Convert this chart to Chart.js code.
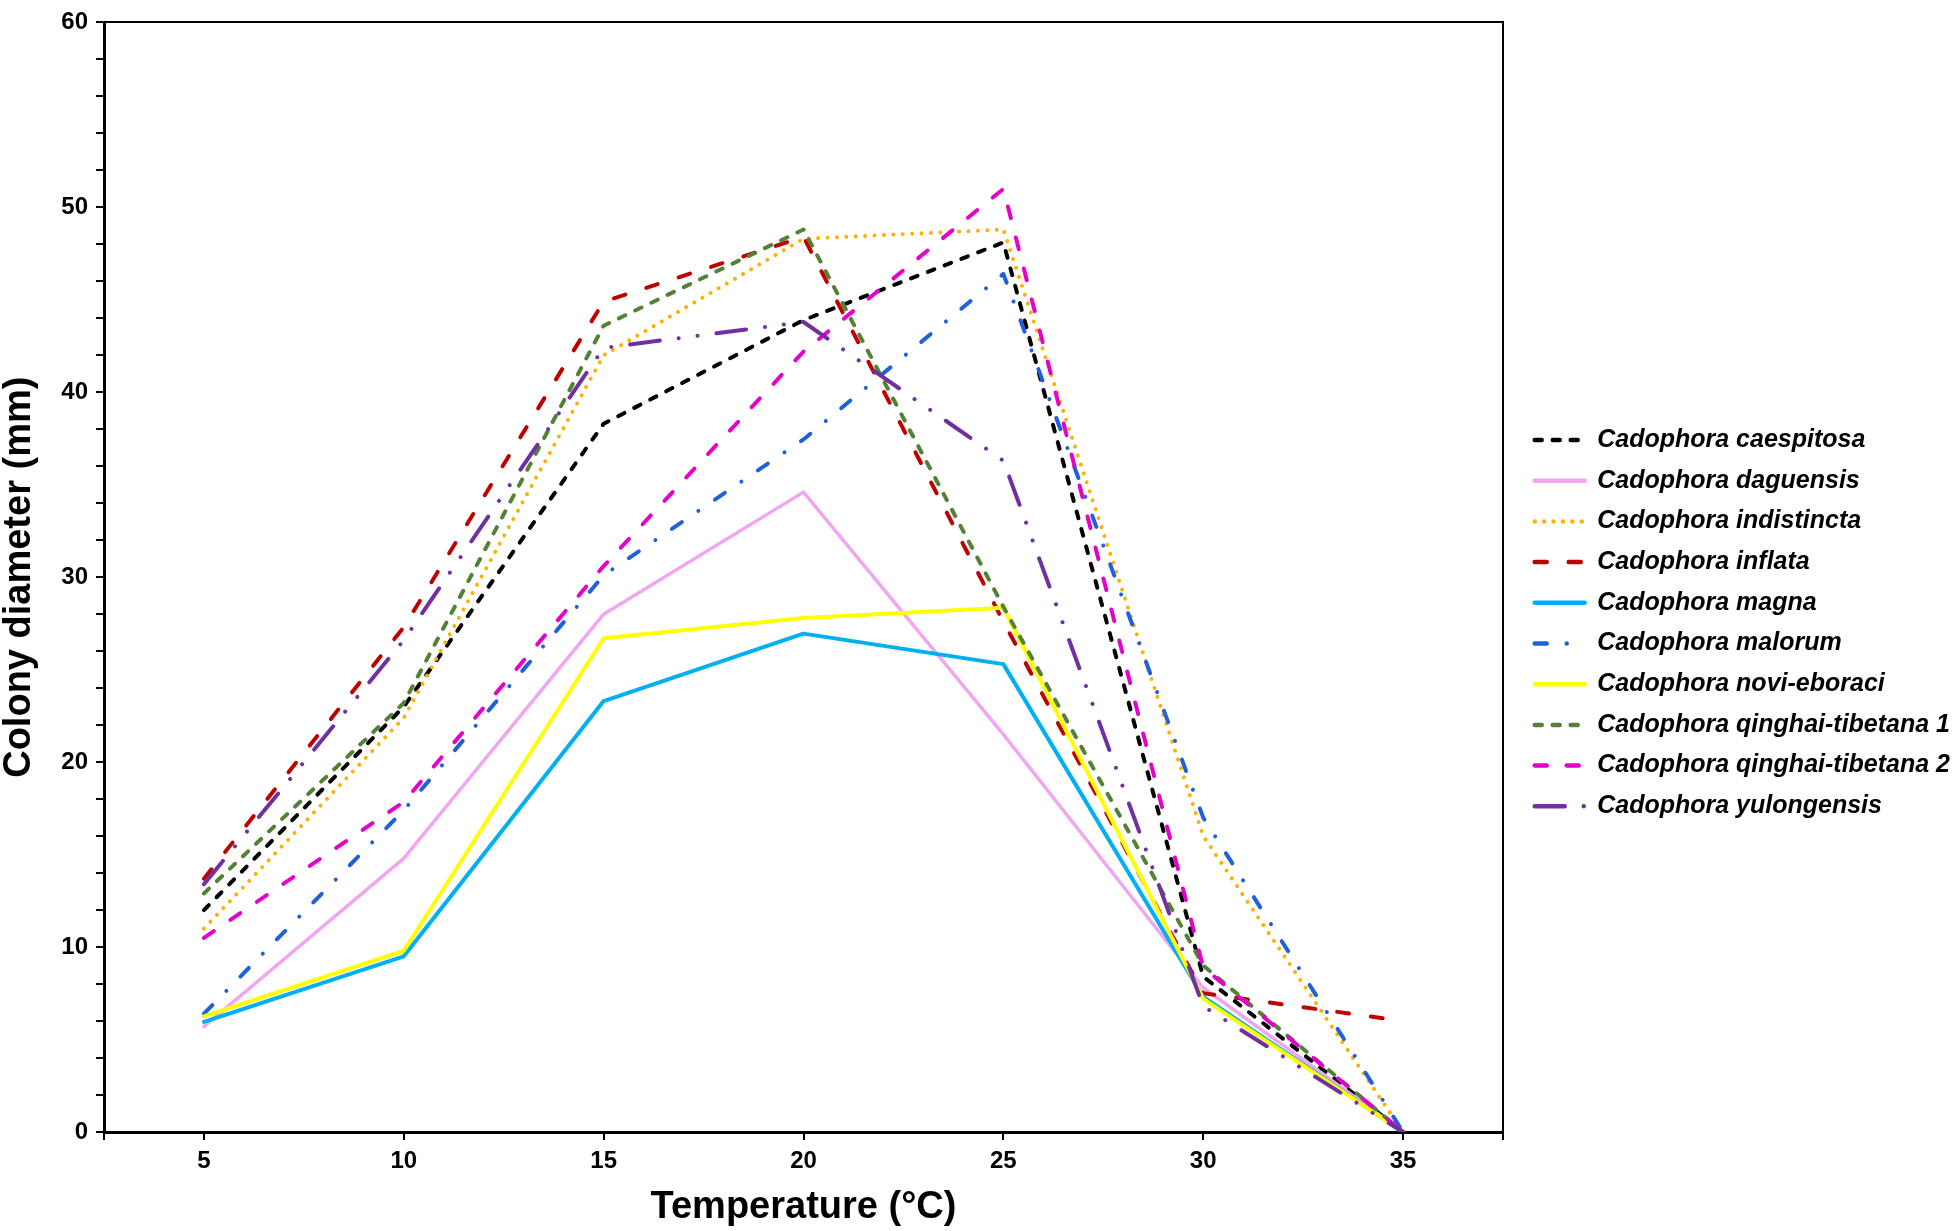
<!DOCTYPE html>
<html>
<head>
<meta charset="utf-8">
<script src="https://cdn.jsdelivr.net/npm/chart.js@4.4.1/dist/chart.umd.min.js"></script>
<style>
html,body{margin:0;padding:0;background:#ffffff;}
#wrap{width:1960px;height:1231px;position:relative;}
</style>
</head>
<body>
<div id="wrap"><canvas id="c"></canvas></div>
<script>
// ---- data ----
const temperatures = [5, 10, 15, 20, 25, 30, 35];
const xTickValues = [5, 10, 15, 20, 25, 30, 35];
const yMajorTicks = [0, 10, 20, 30, 40, 50, 60];
const seriesNames = [
  'Cadophora caespitosa',
  'Cadophora daguensis',
  'Cadophora indistincta',
  'Cadophora inflata',
  'Cadophora magna',
  'Cadophora malorum',
  'Cadophora novi-eboraci',
  'Cadophora qinghai-tibetana 1',
  'Cadophora qinghai-tibetana 2',
  'Cadophora yulongensis'
];
const caespitosa       = [12.0, 23.0, 38.3, 43.9, 48.1, 8.4, 0];
const daguensis        = [5.7, 14.8, 28.0, 34.6, 21.5, 7.8, 0];
const indistincta      = [11.0, 22.4, 42.0, 48.3, 48.8, 16.0, 0];
const inflata          = [13.7, 27.3, 44.9, 48.4, 27.6, 7.5, 6.0];
const magna            = [5.95, 9.5, 23.3, 26.95, 25.3, 7.3, 0];
const malorum          = [6.4, 17.4, 30.1, 37.45, 46.4, 17.0, 0];
const noviEboraci      = [6.25, 9.8, 26.7, 27.8, 28.35, 7.2, 0];
const qinghaiTibetana1 = [12.9, 23.2, 43.6, 48.8, 28.4, 9.0, 0];
const qinghaiTibetana2 = [10.5, 17.85, 30.6, 42.2, 51.0, 8.9, 0];
const yulongensis      = [13.4, 26.6, 42.4, 43.8, 36.3, 6.8, 0];

const seriesValues = [caespitosa, daguensis, indistincta, inflata, magna, malorum,
  noviEboraci, qinghaiTibetana1, qinghaiTibetana2, yulongensis];

// ---- styles ----
const seriesColors = ['#000000', '#F0A6F0', '#FFB000', '#C00000', '#00B0F0',
  '#2060D8', '#FFFF00', '#548235', '#E600CC', '#7030A0'];
const seriesDash = [
  [7, 11],                     // short dash
  [],                          // solid
  [0.01, 9.4],                 // dotted
  [12, 22],                    // long dash
  [],
  [12, 20, 0.01, 20],          // dash dot
  [],
  [7, 11],
  [12, 20],
  [30, 19, 0.01, 19, 0.01, 19] // long dash dot dot
];
const seriesWidth = [4, 3.5, 4, 4, 4, 4, 4, 4, 4, 4];

const FONT = '"Liberation Sans", Arial, Helvetica, sans-serif';
Chart.defaults.font.family = FONT;
Chart.defaults.color = '#000000';

// legend geometry helpers
const legendFontSize = 25;
const legendPad = 15.7;
const legendBoxW = 50;
const mctx = document.createElement('canvas').getContext('2d');
mctx.font = 'italic bold ' + legendFontSize + 'px ' + FONT;
let maxText = 0;
seriesNames.forEach(n => { maxText = Math.max(maxText, mctx.measureText(n).width); });
const rightGap = 16;
const targetRight = 1505;
let padRight = 1960 - targetRight - rightGap - (legendPad + legendBoxW + legendFontSize / 2 + maxText) - 10;
if (padRight < 0) padRight = 0;

const datasets = seriesNames.map((name, i) => ({
  label: name,
  data: temperatures.map((t, k) => ({x: t, y: seriesValues[i][k]})),
  borderColor: seriesColors[i],
  backgroundColor: seriesColors[i],
  borderWidth: seriesWidth[i],
  borderDash: seriesDash[i],
  borderCapStyle: 'round',
  borderJoinStyle: 'round',
  pointRadius: 0,
  pointHoverRadius: 0,
  tension: 0,
  fill: false,
  order: seriesNames.length - i
}));

new Chart(document.getElementById('c'), {
  type: 'line',
  data: {datasets},
  options: {
    responsive: true,
    maintainAspectRatio: false,
    animation: false,
    devicePixelRatio: 1,
    layout: {padding: {left: 0, top: 15, right: padRight, bottom: 0}},
    plugins: {
      tooltip: {enabled: false},
      legend: {
        position: 'right',
        align: 'start',
        maxWidth: 700,
        title: {display: true, text: '', font: {size: 10, lineHeight: 1}, padding: {top: 386.8, bottom: 0}},
        labels: {
          usePointStyle: true,
          pointStyleWidth: legendBoxW,
          boxWidth: legendBoxW,
          boxHeight: legendFontSize,
          padding: legendPad,
          color: '#000000',
          font: {family: FONT, size: legendFontSize, style: 'italic', weight: 'bold'},
          generateLabels: (chart) => chart.data.datasets.map((ds, i) => ({
            text: ds.label,
            fillStyle: ds.borderColor,
            strokeStyle: ds.borderColor,
            lineWidth: 4.5,
            lineDash: ds.borderDash,
            lineCap: 'round',
            pointStyle: 'line',
            hidden: false,
            datasetIndex: i,
            fontColor: '#000000'
          }))
        }
      }
    },
    scales: {
      x: {
        type: 'linear',
        position: 'bottom',
        min: 2.5,
        max: 37.5,
        afterBuildTicks: (axis) => {
          axis.ticks = [2.5].concat(xTickValues, [37.5]).map(v => ({value: v}));
        },
        afterFit: (s) => { s.height = 99; },
        ticks: {
          autoSkip: false,
          maxRotation: 0,
          padding: 6.6,
          color: '#000000',
          font: {family: FONT, size: 24, weight: 'bold'},
          callback: (v) => xTickValues.includes(v) ? String(v) : ''
        },
        grid: {display: true, drawOnChartArea: false, drawTicks: true, tickLength: 8, color: '#000000', lineWidth: 2},
        border: {display: true, color: '#000000', width: 3},
        title: {
          display: true,
          text: 'Temperature (°C)',
          color: '#000000',
          font: {family: FONT, size: 38, weight: 'bold', lineHeight: 1},
          padding: {top: 0, bottom: 4.5}
        }
      },
      y: {
        type: 'linear',
        position: 'left',
        min: 0,
        max: 60,
        afterFit: (s) => { s.width = 104; },
        ticks: {
          stepSize: 2,
          autoSkip: false,
          padding: 8,
          color: '#000000',
          font: {family: FONT, size: 24, weight: 'bold'},
          callback: (v) => yMajorTicks.includes(v) ? String(v) : ''
        },
        grid: {display: true, drawOnChartArea: false, drawTicks: true, tickLength: 8, color: '#000000', lineWidth: 2},
        border: {display: true, color: '#000000', width: 3},
        title: {
          display: true,
          text: 'Colony diameter (mm)',
          color: '#000000',
          font: {family: FONT, size: 38, weight: 'bold', lineHeight: 1},
          padding: {top: 1, bottom: 0}
        }
      },
      xTop: {
        type: 'linear',
        position: 'top',
        display: true,
        afterFit: (s) => { s.height = 0; },
        ticks: {display: false},
        grid: {display: false, drawTicks: false},
        border: {display: true, color: '#000000', width: 2}
      },
      yRight: {
        type: 'linear',
        position: 'right',
        display: true,
        afterFit: (s) => { s.width = rightGap; },
        ticks: {display: false},
        grid: {display: false, drawTicks: false},
        border: {display: true, color: '#000000', width: 2}
      }
    }
  }
});
</script>
</body>
</html>
